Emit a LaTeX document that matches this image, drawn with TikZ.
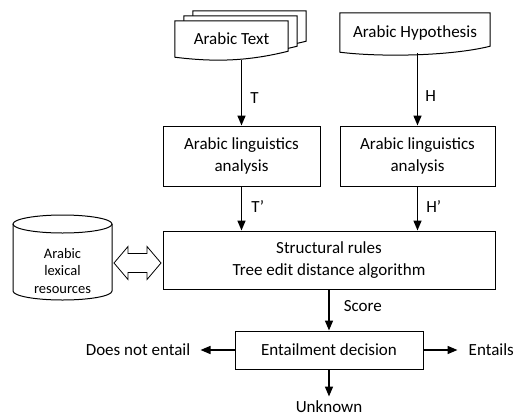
\documentclass[tikz,border=0pt]{standalone}
\usepackage{fontspec}
\setmainfont{Carlito}
\usepackage{tikz}
\usetikzlibrary{arrows.meta, positioning, shapes, backgrounds}

% document symbol drawn round a node: node, x shift, y shift
\newcommand{\docshape}[3]{%
  \path[docline] ([shift={(#2,#3)}]#1.north west) -- ([shift={(#2,#3)}]#1.north east)
    -- ([shift={(#2,#3)},yshift=6pt]#1.south east)
    .. controls +(-40,10) and +(40,5) .. ([shift={(#2,#3)}]#1.south west) -- cycle;}

\begin{document}
\begin{tikzpicture}[
        x=1pt, y=-1pt,
        box/.style={
            rectangle,
            draw=black,
            line width=1pt,
            align=center,
            font=\fontsize{17}{21.5}\selectfont
        },
        docnode/.style={
            rectangle,
            inner sep=0pt,
            align=center,
            font=\fontsize{17}{21.5}\selectfont
        },
        docline/.style={
            draw=black,
            line width=1pt,
            fill=white
        },
        lab/.style={
            inner sep=0pt,
            font=\fontsize{17}{21.5}\selectfont
        },
        arrow/.style={
            -{Triangle[length=10pt,width=8pt]},
            line width=1.5pt
        },
        dblarrow/.style={
            draw=black,
            line width=0.8pt,
            line join=miter
        }
    ]
        \useasboundingbox (0,0) rectangle (516,418);

        \node (textdoc) [docnode, minimum width=113pt, minimum height=36pt] at (231.5,39) {Arabic Text};
        \node (hypdoc) [docnode, minimum width=150pt, minimum height=39pt] at (415,32.5) {Arabic Hypothesis};

        \node (struct) [box, minimum width=332pt, minimum height=58pt] at (329,260) {Structural rules \\ Tree edit distance algorithm};
        \node (anaT) [box, minimum width=157pt, minimum height=60pt, above=44pt of struct.north west, anchor=south west] {Arabic linguistics \\ analysis};
        \node (anaH) [box, minimum width=155pt, minimum height=60pt, above=44pt of struct.north east, anchor=south east] {Arabic linguistics \\ analysis};
        \node (ent) [box, minimum width=188pt, minimum height=38pt, below=41pt of struct] {Entailment decision};

        \node (noent) [lab, left=44pt of ent] {Does not entail};
        \node (yes) [lab, right=45pt of ent] {Entails};
        \node (unk) [lab, below=31pt of ent] {Unknown};

        \node (lex) [lab, align=center, font=\fontsize{14.5}{17.5}\selectfont] at (62.5,271) {Arabic \\ lexical \\ resources};
        \coordinate (link) at (137.5,263);

        % cylinder round the lexical resources
        \draw[line width=1pt] ([xshift=-49.5pt,yshift=47pt]lex.center) -- ([xshift=-49.5pt,yshift=-20pt]lex.center)
            arc[start angle=180, end angle=360, x radius=49.5pt, y radius=9pt]
            -- ([xshift=49.5pt,yshift=47pt]lex.center);
        \draw[line width=1pt] ([yshift=47pt]lex.center) ellipse [x radius=49.5pt, y radius=9pt];

        % hollow double arrow between resources and rules
        \draw[dblarrow] ([xshift=-23.5pt]link) -- ++(14,-16.5) -- ++(0,7) -- ++(19,0) -- ++(0,-7)
            -- ++(14,16.5) -- ++(-14,16.5) -- ++(0,-7) -- ++(-19,0) -- ++(0,7) -- cycle;

        \begin{pgfonlayer}{background}
            \docshape{textdoc}{18}{-10}
            \docshape{textdoc}{9}{-5}
            \docshape{textdoc}{0}{0}
            \docshape{hypdoc}{0}{0}
        \end{pgfonlayer}

        \draw [arrow, shorten <=3pt] (textdoc.south -| anaT.north) -- node[lab, pos=0.6, right=8pt] {T} (anaT.north);
        \draw [arrow, shorten <=1pt] (hypdoc.south -| anaH.north) -- node[lab, pos=0.6, right=7pt] {H} (anaH.north);
        \draw [arrow] (anaT.south) -- node[lab, pos=0.45, right=9pt] {T’} (anaT.south |- struct.north);
        \draw [arrow] (anaH.south) -- node[lab, pos=0.45, right=8pt] {H’} (anaH.south |- struct.north);
        \draw [arrow] (struct.south -| ent.north) -- node[lab, pos=0.4, right=14pt] {Score} (ent.north);
        \draw [arrow, shorten >=10pt] (ent.west) -- (noent.east);
        \draw [arrow, shorten >=11pt] (ent.east) -- (yes.west);
        \draw [arrow, shorten >=4pt] (ent.south) -- (unk.north);
    \end{tikzpicture}
\end{document}
